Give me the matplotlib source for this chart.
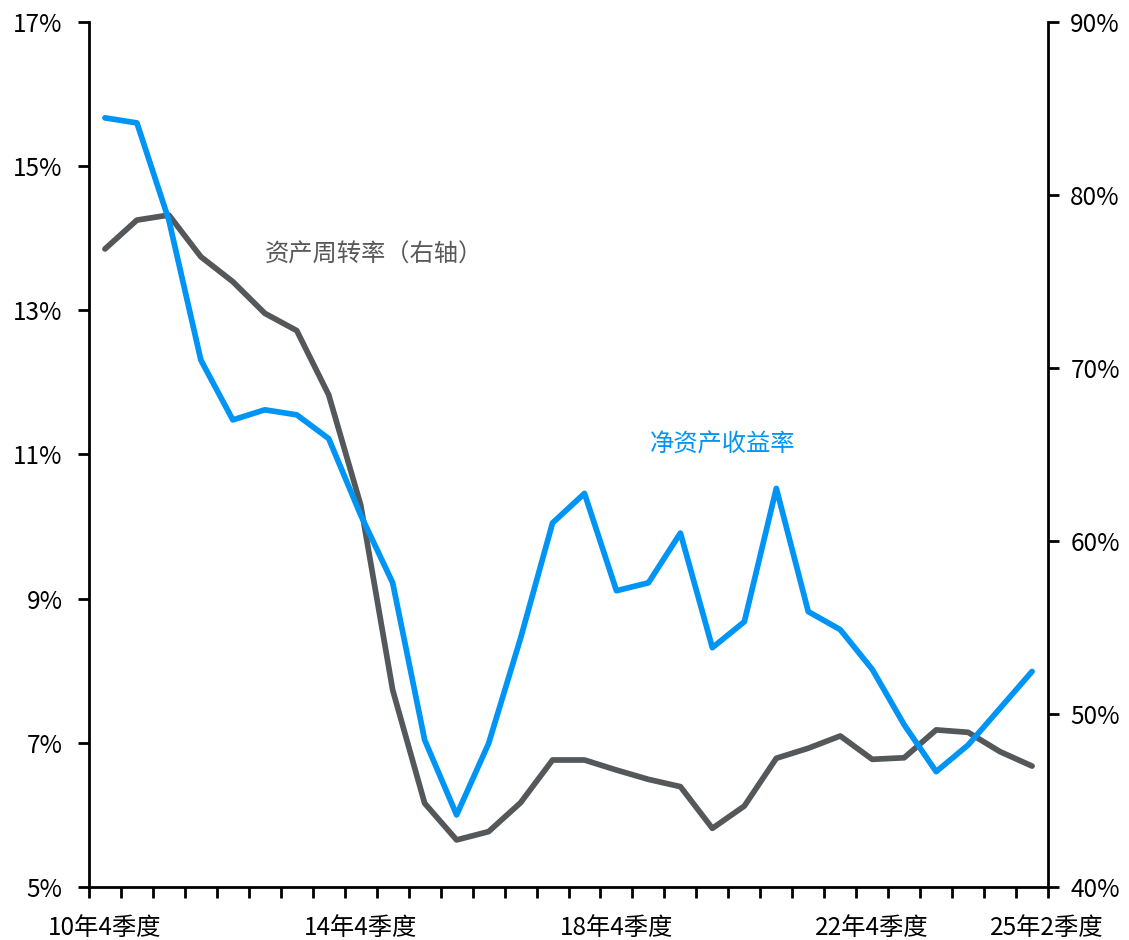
import matplotlib
matplotlib.use("Agg")
import matplotlib.pyplot as plt
import matplotlib.transforms as mtransforms
import numpy as np

plt.rcParams['font.family'] = ['Noto Sans CJK SC', 'DejaVu Sans']

periods = ['10年4季度', '11年2季度', '11年4季度', '12年2季度', '12年4季度', '13年2季度',
           '13年4季度', '14年2季度', '14年4季度', '15年2季度', '15年4季度', '16年2季度',
           '16年4季度', '17年2季度', '17年4季度', '18年2季度', '18年4季度', '19年2季度',
           '19年4季度', '20年2季度', '20年4季度', '21年2季度', '21年4季度', '22年2季度',
           '22年4季度', '23年2季度', '23年4季度', '24年2季度', '24年4季度', '25年2季度']

roe = [15.67, 15.60, 14.25, 12.31, 11.48, 11.62, 11.55, 11.22, 10.16, 9.22,
       7.04, 6.00, 6.99, 8.45, 10.05, 10.46, 9.11, 9.22, 9.91, 8.32,
       8.68, 10.53, 8.82, 8.57, 8.02, 7.25, 6.60, 6.97, 7.48, 7.99]

turnover = [76.88, 78.55, 78.84, 76.43, 74.99, 73.16, 72.16, 68.44, 62.08, 51.39,
            44.84, 42.72, 43.20, 44.87, 47.34, 47.34, 46.76, 46.22, 45.80, 43.39,
            44.68, 47.44, 48.02, 48.73, 47.38, 47.47, 49.08, 48.94, 47.82, 46.99]

label_idx = [0, 8, 16, 24, 29]
left_ticks = [5, 7, 9, 11, 13, 15, 17]
right_ticks = [40, 50, 60, 70, 80, 90]

blue = '#0095F5'
gray = '#54585A'
fs = 17.5

fig = plt.figure(figsize=(11.29, 9.4), dpi=100)
ax = fig.add_axes([0.0788, 0.0564, 0.8495, 0.9202])
ax2 = ax.twinx()

x = np.arange(len(periods))
ax.plot(x, roe, color=blue, lw=4.1, solid_capstyle='round', solid_joinstyle='round', zorder=3)
ax2.plot(x, turnover, color=gray, lw=4.1, solid_capstyle='round', solid_joinstyle='round', zorder=2)
ax.set_zorder(ax2.get_zorder() + 1)
ax.patch.set_visible(False)

ax.set_xlim(-0.5, len(periods) - 0.5)
ax.set_ylim(5, 17)
ax2.set_ylim(40, 90)

ax.set_yticks(left_ticks)
ax.set_yticklabels([f'{v}%' for v in left_ticks], fontsize=fs)
ax2.set_yticks(right_ticks)
ax2.set_yticklabels([f'{v}%' for v in right_ticks], fontsize=fs)

ax.set_xticks(np.arange(-0.5, len(periods), 1.0))
ax.set_xticklabels([])
ax.set_xticks(label_idx, minor=True)
ax.set_xticklabels([periods[i] for i in label_idx], minor=True, fontsize=fs)
ax.tick_params(axis='x', which='major', direction='out', length=8, width=2)
ax.tick_params(axis='x', which='minor', length=0, pad=20)
ax.tick_params(axis='y', direction='out', length=8, width=2, pad=11)
ax2.tick_params(axis='y', direction='out', length=8, width=2, pad=8)

# last category label is pushed right in the original (Excel fits it to the axis end)
last_lbl = ax.get_xticklabels(minor=True)[-1]
last_lbl.set_transform(last_lbl.get_transform() +
                       mtransforms.ScaledTranslation(15 / 100, 0, fig.dpi_scale_trans))

for a in (ax, ax2):
    a.spines['top'].set_visible(False)
    for s in ('left', 'right', 'bottom'):
        a.spines[s].set_linewidth(2)
ax.spines['right'].set_visible(False)
ax2.spines['left'].set_visible(False)
ax2.spines['bottom'].set_visible(False)

ax.text(0.1835, 0.731, '资产周转率（右轴）', transform=ax.transAxes, color='#595959',
        fontsize=fs, ha='left', va='center')
ax.text(0.585, 0.512, '净资产收益率', transform=ax.transAxes, color=blue,
        fontsize=fs, ha='left', va='center')

fig.savefig('out.png', dpi=100)
